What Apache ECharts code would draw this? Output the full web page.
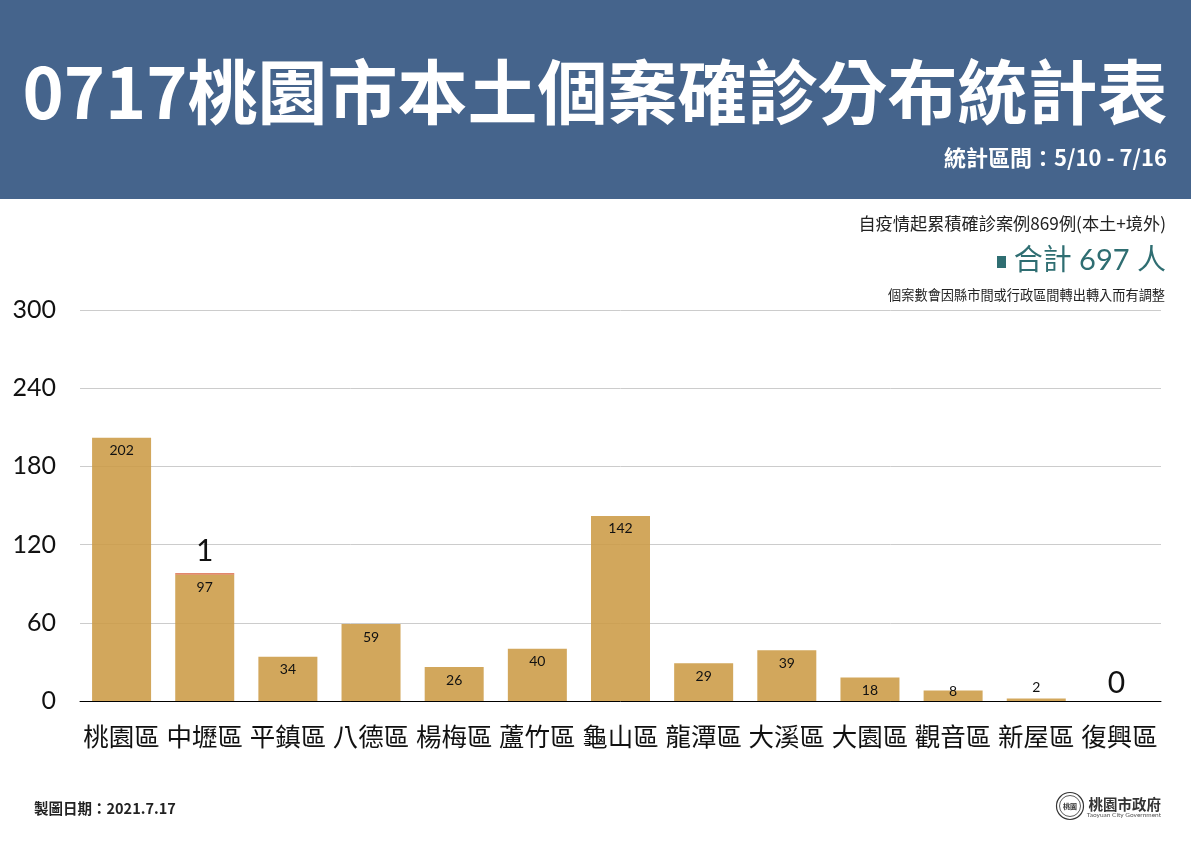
<!DOCTYPE html>
<html lang="zh-TW">
<head>
    <meta charset="UTF-8">
    <title>0717桃園市本土個案確診分布統計表</title>
    <script src="https://cdn.jsdelivr.net/npm/echarts@6/dist/echarts.min.js"></script>
    <style>
        * { margin: 0; padding: 0; }
        body { background: #fff; }
        #chart { width: 1191px; height: 842px; }
    </style>
</head>
<body>
    <div id="chart"></div>
    <script>
        const categories = ['桃園區', '中壢區', '平鎮區', '八德區', '楊梅區', '蘆竹區', '龜山區', '龍潭區', '大溪區', '大園區', '觀音區', '新屋區', '復興區'];
        const mainCases = [202, 97, 34, 59, 26, 40, 142, 29, 39, 18, 8, 2, 0];
        const extraCases = [null, 1, null, null, null, null, null, null, null, null, null, null, 0];
        const yTicks = [0, 60, 120, 180, 240, 300];

        const font = '"Noto Sans CJK TC", sans-serif';
        const latin = 'Lato, "Noto Sans CJK TC", sans-serif';

        function text(x, y, str, size, color, align, weight, family) {
            return {
                type: 'text', x: x, y: y, silent: true,
                style: {
                    text: str, fontSize: size, fill: color, align: align || 'right',
                    verticalAlign: 'middle', fontWeight: weight || 'normal', fontFamily: family || font
                }
            };
        }

        const chart = echarts.init(document.getElementById('chart'), null, { renderer: 'canvas' });
        chart.setOption({
            animation: false,
            backgroundColor: '#fff',
            grid: { left: 80, right: 30, top: 310, bottom: 141 },
            xAxis: {
                type: 'category',
                data: categories,
                axisTick: { show: false },
                axisLine: { lineStyle: { color: '#000', width: 1 } },
                axisLabel: { color: '#111', fontSize: 25.5, fontFamily: font, margin: 23, interval: 0 }
            },
            yAxis: {
                type: 'value',
                min: yTicks[0],
                max: yTicks[yTicks.length - 1],
                interval: 60,
                axisLine: { show: false },
                axisTick: { show: false },
                splitLine: { lineStyle: { color: '#cccccc', width: 1 } },
                axisLabel: { color: '#111', fontSize: 25, fontFamily: latin, margin: 24, padding: [2, 0, 0, 0] }
            },
            series: [
                {
                    type: 'bar',
                    stack: 'cases',
                    barWidth: 59,
                    itemStyle: { color: 'rgba(204,155,70,0.88)' },
                    data: mainCases.map(function (v) {
                        return {
                            value: v,
                            label: v === 0 ? { show: false } : (v < 10
                                ? { show: true, position: 'top', distance: v === 8 ? -8 : 4 }
                                : { show: true, position: 'insideTop', distance: 6 })
                        };
                    }),
                    label: { color: '#111', fontSize: 14, fontFamily: latin }
                },
                {
                    type: 'bar',
                    stack: 'cases',
                    barWidth: 59,
                    itemStyle: { color: '#d9603c' },
                    data: extraCases.map(function (v) {
                        return { value: v, label: { distance: v === 1 ? 7 : 3, offset: v === 0 ? [-3, 0] : [0, 0] } };
                    }),
                    label: {
                        show: true, position: 'top',
                        color: '#111', fontSize: 30, fontFamily: latin,
                        formatter: function (p) { return p.value === null ? '' : p.value; }
                    }
                }
            ],
            graphic: [
                { type: 'rect', shape: { x: 0, y: 0, width: 1191, height: 199 }, style: { fill: '#45648c' }, silent: true },
                text(595, 92, '0717桃園市本土個案確診分布統計表', 70, '#fff', 'center', 'bold'),
                text(1167, 158, '統計區間：5/10 - 7/16', 22, '#fff', 'right', 'bold'),
                text(1166, 223, '自疫情起累積確診案例869例(本土+境外)', 17.2, '#222'),
                { type: 'rect', shape: { x: 997, y: 256, width: 9, height: 12 }, style: { fill: '#2f6e72' }, silent: true },
                text(1166, 261, '合計 697 人', 29, '#2f6e72', 'right', 'normal', latin),
                text(1165, 295, '個案數會因縣市間或行政區間轉出轉入而有調整', 13.2, '#222'),
                text(34, 808, '製圖日期：2021.7.17', 14.5, '#222', 'left', 'bold'),
                { type: 'circle', shape: { cx: 1070, cy: 806, r: 13.5 }, style: { fill: 'none', stroke: '#333', lineWidth: 1.2 }, silent: true },
                { type: 'circle', shape: { cx: 1070, cy: 806, r: 10.5 }, style: { fill: 'none', stroke: '#333', lineWidth: 0.8 }, silent: true },
                text(1070, 806, '桃園', 7, '#333', 'center', 'bold'),
                text(1161, 804, '桃園市政府', 14.5, '#333', 'right', 'bold'),
                text(1161, 815, 'Taoyuan City Government', 6.5, '#555', 'right', 'normal', latin)
            ]
        });
    </script>
</body>
</html>
